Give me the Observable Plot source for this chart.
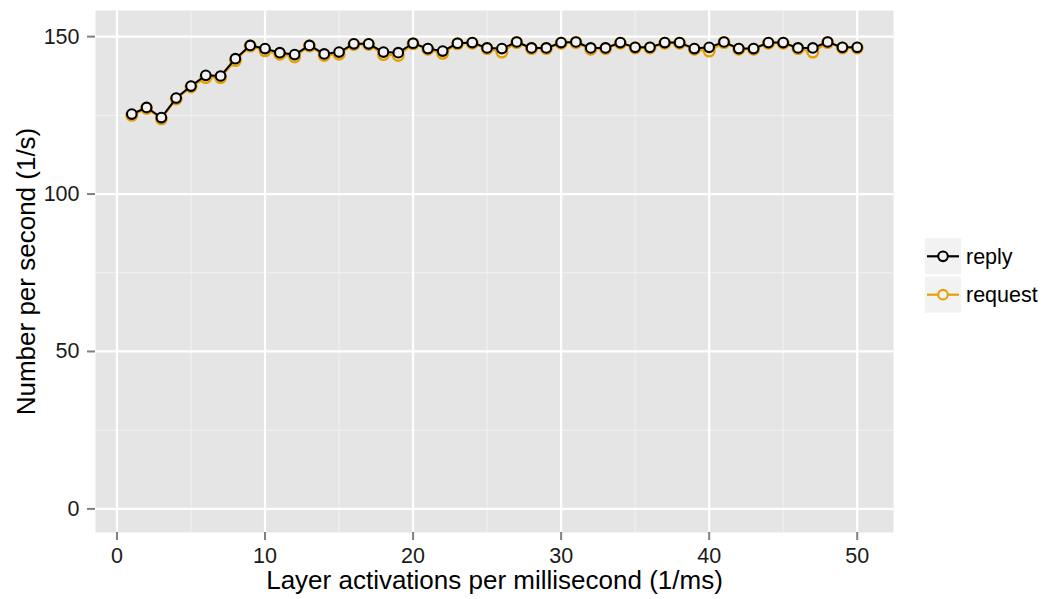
<!DOCTYPE html>
<html>
<head>
<meta charset="utf-8">
<script src="https://cdn.jsdelivr.net/npm/d3@7"></script>
<script src="https://cdn.jsdelivr.net/npm/@observablehq/plot@0.6"></script>
<style>
  html, body { margin: 0; padding: 0; background: white; }
  #chart { width: 1045px; height: 599px; }
</style>
</head>
<body>
<div id="chart"></div>
<script>
// ---- data ----
const activations = d3.range(1, 51);
const reply = [125.4,127.5,124.3,130.5,134.3,137.7,137.5,143.0,147.2,146.2,
               144.9,144.3,147.2,144.5,145.1,147.7,147.7,145.1,144.9,147.9,
               146.2,145.4,147.9,148.1,146.4,146.2,148.3,146.4,146.4,148.1,
               148.3,146.4,146.4,148.1,146.6,146.6,148.1,148.1,146.2,146.6,
               148.3,146.2,146.2,148.1,148.1,146.4,146.4,148.3,146.6,146.6];
const request = [125.0,127.2,123.9,130.2,134.0,137.0,137.0,142.4,147.0,145.5,
                 144.4,143.6,147.0,144.0,144.4,147.5,147.5,144.3,144.0,147.7,
                 146.0,144.7,147.7,147.9,146.2,145.1,148.1,146.2,146.2,147.9,
                 148.1,146.0,146.2,147.9,146.4,146.4,147.9,147.9,146.0,145.4,
                 148.1,146.0,146.0,147.9,147.9,146.2,145.1,148.1,146.4,146.4];
const seriesNames = ["reply", "request"];
const seriesColors = ["#000000", "#E69F00"];
const xTicks = [0, 10, 20, 30, 40, 50];
const xMinor = [5, 15, 25, 35, 45];
const yTicks = [0, 50, 100, 150];
const yMinor = [25, 75, 125];
const xTitle = "Layer activations per millisecond (1/ms)";
const yTitle = "Number per second (1/s)";

const replyRows = activations.map((x, i) => ({x, y: reply[i]}));
const requestRows = activations.map((x, i) => ({x, y: request[i]}));

const font = "'Liberation Sans', Arial, Helvetica, sans-serif";

const plot = Plot.plot({
  width: 1045,
  height: 599,
  marginLeft: 95,
  marginRight: 152,
  marginTop: 10,
  marginBottom: 67,
  style: {fontFamily: font, fontSize: "21.5px", background: "white", color: "#000"},
  x: {domain: [-1.45, 52.45]},
  y: {domain: [-7.5, 158.3]},
  marks: [
    Plot.frame({fill: "#e5e5e5", stroke: null}),
    Plot.gridX(xMinor, {stroke: "#f2f2f2", strokeOpacity: 1, strokeWidth: 1}),
    Plot.gridY(yMinor, {stroke: "#f2f2f2", strokeOpacity: 1, strokeWidth: 1}),
    Plot.gridX(xTicks, {stroke: "white", strokeOpacity: 1, strokeWidth: 2.2}),
    Plot.gridY(yTicks, {stroke: "white", strokeOpacity: 1, strokeWidth: 2.2}),
    Plot.axisX(xTicks, {tickSize: 8, tickPadding: 7, stroke: "#7f7f7f", strokeWidth: 2, fill: "#1a1a1a", fontSize: 21.5, label: null}),
    Plot.axisY(yTicks, {tickSize: 8, tickPadding: 8, stroke: "#7f7f7f", strokeWidth: 2, fill: "#1a1a1a", fontSize: 21.5, label: null}),
    Plot.text([xTitle], {frameAnchor: "bottom", textAnchor: "middle", lineAnchor: "middle", dy: 48, fontSize: 26, fill: "#000"}),
    Plot.text([yTitle], {frameAnchor: "left", textAnchor: "middle", lineAnchor: "middle", rotate: -90, dx: -69, fontSize: 26, fill: "#000"}),
    Plot.line(requestRows, {x: "x", y: "y", stroke: seriesColors[1], strokeWidth: 2}),
    Plot.dot(requestRows, {x: "x", y: "y", r: 5.3, stroke: seriesColors[1], strokeWidth: 2.4, fill: "#f2f2f2"}),
    Plot.line(replyRows, {x: "x", y: "y", stroke: seriesColors[0], strokeWidth: 2}),
    Plot.dot(replyRows, {x: "x", y: "y", r: 4.8, stroke: seriesColors[0], strokeWidth: 2.1, fill: "#f2f2f2"})
  ]
});

document.getElementById("chart").appendChild(plot);

// legend (drawn into the same SVG, to the right of the panel)
const svg = d3.select(plot);
const lg = svg.append("g").attr("font-family", font).attr("font-size", 21.5).attr("text-anchor", "start");
seriesNames.forEach((name, i) => {
  const y0 = 238.3 + i * 38.4;
  const g = lg.append("g").attr("transform", `translate(925,${y0})`);
  g.append("rect").attr("width", 36).attr("height", 36).attr("fill", "#f2f2f2");
  g.append("line").attr("x1", 2).attr("x2", 34).attr("y1", 18).attr("y2", 18)
    .attr("stroke", seriesColors[i]).attr("stroke-width", 2.2);
  g.append("circle").attr("cx", 18).attr("cy", 18).attr("r", 4.8)
    .attr("stroke", seriesColors[i]).attr("stroke-width", 2.1).attr("fill", "#f2f2f2");
  g.append("text").attr("x", 41).attr("y", 18).attr("dy", "0.35em")
    .attr("fill", "#000").text(name);
});
</script>
</body>
</html>
